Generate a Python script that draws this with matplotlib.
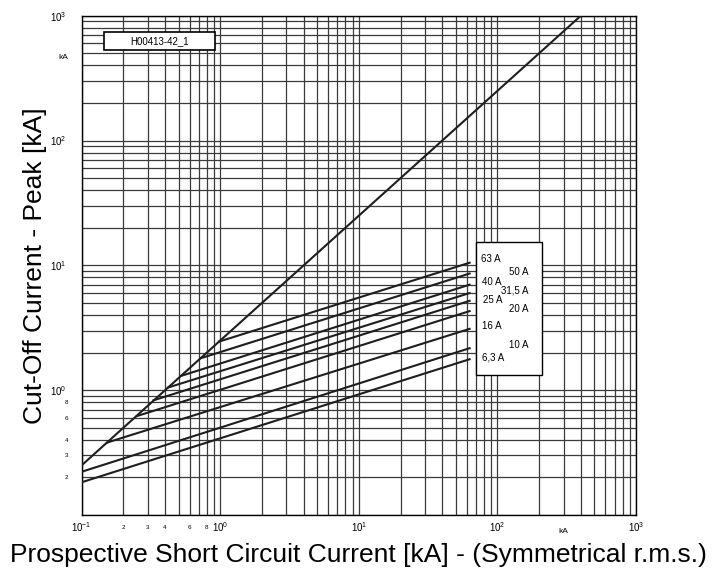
import math
import matplotlib
matplotlib.use("Agg")
import matplotlib.pyplot as plt
from matplotlib.ticker import LogLocator, FuncFormatter
from matplotlib.patches import Rectangle

plt.rcParams['font.family'] = ['Liberation Sans', 'DejaVu Sans']
plt.rcParams['mathtext.fontset'] = 'custom'
plt.rcParams['mathtext.rm'] = 'Liberation Sans'
plt.rcParams['mathtext.default'] = 'regular'

# fuse ratings and their cut-off lines (knee on the limit line -> end point)
ratings = ['63 A', '50 A', '40 A', '31,5 A', '25 A', '20 A', '16 A', '10 A', '6,3 A']
start_x = [0.98, 0.72, 0.52, 0.42, 0.33, 0.25, 0.152, 0.1, 0.1]
start_y = [2.45, 1.80, 1.30, 1.05, 0.83, 0.62, 0.38, 0.222, 0.183]
end_x = [63, 63, 63, 63, 63, 63, 63, 63, 63]
end_y = [10.5, 8.6, 7.0, 6.0, 5.2, 4.3, 3.1, 2.17, 1.77]

# limit line (peak without fuse)
limit_x = [0.1, 400]
limit_y = [0.25, 1000]

# label positions inside the box (axes fraction)
label_x = [0.721, 0.770, 0.7217, 0.756, 0.7235, 0.7705, 0.7217, 0.7705, 0.7217]
label_y = [0.5127, 0.4873, 0.4673, 0.4492, 0.4306, 0.4126, 0.3785, 0.3405, 0.3164]

fig = plt.figure(figsize=(7.12, 5.73), dpi=100)
ax = fig.add_axes([0.1147, 0.1012, 0.8933 - 0.1147, 0.9726 - 0.1012])
ax.set_xscale('log')
ax.set_yscale('log')
ax.set_xlim(0.1, 1000)
ax.set_ylim(0.1, 1000)

grid_col = '#3a3a3a'
ax.grid(True, which='both', color=grid_col, lw=0.9, zorder=1)
ax.set_axisbelow(True)

ax.plot(limit_x, limit_y, color='#1e1e1e', lw=1.5, zorder=3)
for i in range(len(ratings)):
    ax.plot([start_x[i], end_x[i]], [start_y[i], end_y[i]], color='#1e1e1e', lw=1.5, zorder=3)

def x_major_fmt(v, pos):
    return r'$10^{%d}$' % int(round(math.log10(v)))

def y_major_fmt(v, pos):
    e = int(round(math.log10(v)))
    if e < 0:
        return ''
    return r'$10^{%d}$' % e

def minor_fmt(v, pos):
    if 0.1 < v < 1:
        d = int(round(v * 10))
        if d in (2, 3, 4, 6, 8):
            return str(d)
    return ''

for axis, fmt in ((ax.xaxis, x_major_fmt), (ax.yaxis, y_major_fmt)):
    axis.set_major_locator(LogLocator(base=10, numticks=10))
    axis.set_minor_locator(LogLocator(base=10, subs=range(2, 10), numticks=20))
    axis.set_major_formatter(FuncFormatter(fmt))
    axis.set_minor_formatter(FuncFormatter(minor_fmt))

ax.tick_params(which='both', length=0)
ax.tick_params(axis='x', which='major', labelsize=7, pad=4)
ax.tick_params(axis='x', which='minor', labelsize=4.5, pad=7)
ax.tick_params(axis='y', which='major', labelsize=7, pad=11)
ax.tick_params(axis='y', which='minor', labelsize=4.5, pad=9.5)

for s in ax.spines.values():
    s.set_color('black')
    s.set_linewidth(1.0)

ax.text(-0.034, 0.916, 'kA', transform=ax.transAxes, fontsize=6, ha='center', va='center')
ax.text(0.869, -0.034, 'kA', transform=ax.transAxes, fontsize=6, ha='center', va='center')

# ratings box
ax.add_patch(Rectangle((0.712, 0.2804), 0.831 - 0.712, 0.5474 - 0.2804, transform=ax.transAxes,
                       facecolor='white', edgecolor='black', lw=1.0, zorder=5))
for i in range(len(ratings)):
    ax.text(label_x[i], label_y[i], ratings[i], transform=ax.transAxes, fontsize=7,
            ha='left', va='center', zorder=6)

# drawing id box
ax.add_patch(Rectangle((0.0403, 0.9313), 0.2411 - 0.0403, 0.968 - 0.9313, transform=ax.transAxes,
                       facecolor='white', edgecolor='black', lw=1.2, zorder=5))
ax.text(0.1407, 0.9497, 'H00413-42_1', transform=ax.transAxes, fontsize=7,
        ha='center', va='center', zorder=6)

ax.set_xlabel('Prospective Short Circuit Current [kA] - (Symmetrical r.m.s.)', fontsize=19, labelpad=6)
ax.set_ylabel('Cut-Off Current - Peak [kA]', fontsize=19)
ax.yaxis.set_label_coords(-0.062, 0.5)

fig.savefig('out.png', dpi=100)
